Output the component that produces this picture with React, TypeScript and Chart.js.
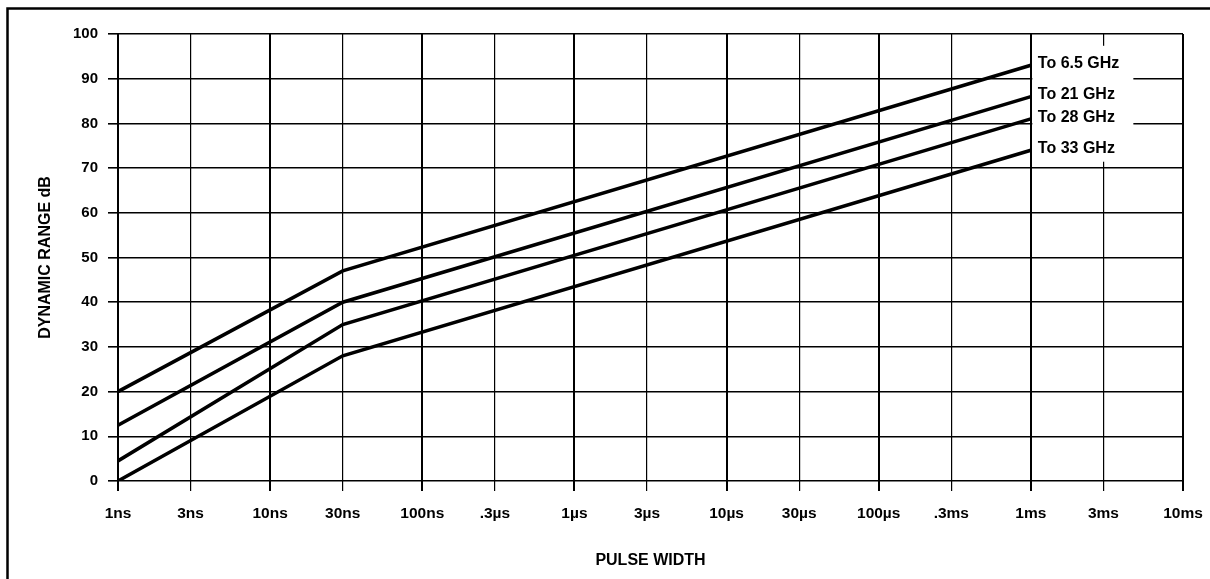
import React, { useEffect, useRef } from "react";
import { Chart, registerables } from "chart.js";

Chart.register(...registerables);

// Pulse widths in nanoseconds and their tick labels
const X_TICK_VALUES = [1, 3, 10, 30, 100, 300, 1e3, 3e3, 1e4, 3e4, 1e5, 3e5, 1e6, 3e6, 1e7];
const X_TICK_LABELS = ["1ns", "3ns", "10ns", "30ns", "100ns", ".3µs", "1µs", "3µs", "10µs", "30µs", "100µs", ".3ms", "1ms", "3ms", "10ms"];

// Break points of each curve (ns)
const PULSE_POINTS = [1, 30, 1e6];

const SERIES_NAMES = ["To 6.5 GHz", "To 21 GHz", "To 28 GHz", "To 33 GHz"];
const RANGE_65GHZ = [20, 47, 93];
const RANGE_21GHZ = [12.5, 40, 86];
const RANGE_28GHZ = [4.5, 35, 81];
const RANGE_33GHZ = [0, 28, 74];
const SERIES_VALUES = [RANGE_65GHZ, RANGE_21GHZ, RANGE_28GHZ, RANGE_33GHZ];

const FONT = "'Liberation Sans', Arial, Helvetica, sans-serif";

const framePlugin = {
  id: "frame",
  beforeDraw(chart: any) {
    const ctx = chart.ctx;
    ctx.save();
    ctx.fillStyle = "#fff";
    ctx.fillRect(0, 0, chart.width, chart.height);
    ctx.strokeStyle = "#000";
    ctx.lineWidth = 2.5;
    ctx.beginPath();
    ctx.moveTo(1210, 8.5);
    ctx.lineTo(7.5, 8.5);
    ctx.lineTo(7.5, 579);
    ctx.stroke();
    ctx.restore();
  },
};

const labelPlugin = {
  id: "endLabels",
  afterDatasetsDraw(chart: any) {
    const ctx = chart.ctx;
    const xs = chart.scales.x;
    const ys = chart.scales.y;
    const x0 = xs.getPixelForValue(PULSE_POINTS[PULSE_POINTS.length - 1]);
    const ysPos = SERIES_VALUES.map((v) => ys.getPixelForValue(v[v.length - 1]) - 1.5);
    ctx.save();
    ctx.fillStyle = "#fff";
    const top = ysPos[0] - 18;
    const bottom = ysPos[ysPos.length - 1] + 13;
    ctx.fillRect(x0 + 1.5, top, 101, bottom - top);
    ctx.fillStyle = "#000";
    ctx.font = `bold 16px ${FONT}`;
    ctx.textBaseline = "middle";
    ctx.textAlign = "left";
    SERIES_NAMES.forEach((name, i) => {
      ctx.fillText(name, x0 + 7, ysPos[i]);
    });
    ctx.restore();
  },
};

export default function App() {
  const ref = useRef<HTMLCanvasElement | null>(null);
  useEffect(() => {
    if (!ref.current) return;
    const chart = new Chart(ref.current, {
      type: "line",
      data: {
        datasets: SERIES_NAMES.map((name, i) => ({
          label: name,
          data: PULSE_POINTS.map((p, j) => ({ x: p, y: SERIES_VALUES[i][j] })),
          borderColor: "#000",
          backgroundColor: "#000",
          borderWidth: 3.5,
          pointRadius: 0,
          tension: 0,
          fill: false,
        })),
      },
      options: {
        animation: false,
        responsive: false,
        maintainAspectRatio: false,
        layout: { padding: { left: 0, right: 27, top: 34, bottom: 0 } },
        plugins: {
          legend: { display: false },
          tooltip: { enabled: false },
        },
        scales: {
          x: {
            type: "logarithmic",
            min: 1,
            max: 1e7,
            afterBuildTicks: (scale: any) => {
              scale.ticks = X_TICK_VALUES.map((v) => ({ value: v }));
            },
            afterFit: (scale: any) => {
              scale.height = 98;
              scale.paddingLeft = 0;
              scale.paddingRight = 0;
            },
            ticks: {
              autoSkip: false,
              maxRotation: 0,
              minRotation: 0,
              padding: 13,
              color: "#000",
              font: { family: FONT, size: 15.5, weight: "bold" },
              callback: (value: any) => {
                const idx = X_TICK_VALUES.indexOf(Number(value));
                return idx >= 0 ? X_TICK_LABELS[idx] : "";
              },
            },
            grid: {
              color: "#000",
              tickColor: "#000",
              tickLength: 10,
              lineWidth: (ctx: any) => {
                const v = ctx.tick ? ctx.tick.value : 0;
                const l = Math.log10(v);
                return Math.abs(l - Math.round(l)) < 1e-6 ? 2 : 1.2;
              },
            },
            border: { display: false },
            title: {
              display: true,
              text: "PULSE WIDTH",
              color: "#000",
              font: { family: FONT, size: 16, weight: "bold" },
              padding: { top: 0, bottom: 9 },
            },
          },
          y: {
            min: 0,
            max: 100,
            afterFit: (scale: any) => {
              scale.width = 118;
              scale.paddingTop = 0;
              scale.paddingBottom = 0;
            },
            ticks: {
              stepSize: 10,
              padding: 10,
              color: "#000",
              font: { family: FONT, size: 15, weight: "bold" },
            },
            grid: {
              color: "#000",
              tickColor: "#000",
              tickLength: 10,
              lineWidth: 1.6,
            },
            border: { display: false },
            title: {
              display: true,
              text: "DYNAMIC RANGE dB",
              color: "#000",
              font: { family: FONT, size: 16, weight: "bold" },
              padding: { top: 36, bottom: 0 },
            },
          },
        },
      },
      plugins: [framePlugin, labelPlugin],
    });
    return () => chart.destroy();
  }, []);
  return (
    <div style={{ position: "fixed", left: 0, top: 0, width: 1210, height: 579, background: "#fff" }}>
      <canvas ref={ref} width={1210} height={579} style={{ display: "block", width: 1210, height: 579 }} />
    </div>
  );
}
